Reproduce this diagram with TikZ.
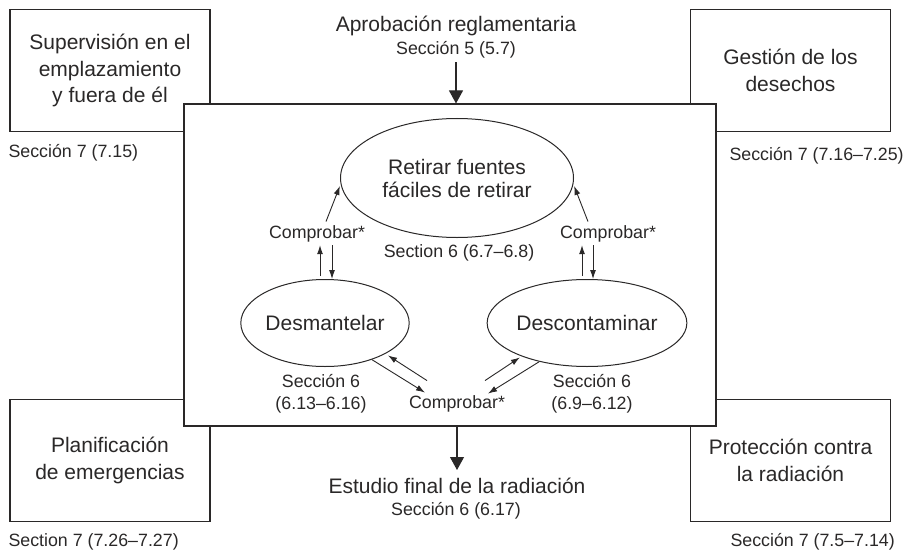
\documentclass[tikz,border=0pt]{standalone}
\usepackage{fontspec}
\setmainfont{Liberation Sans}
\usepackage{tikz}
\usetikzlibrary{shapes,arrows.meta,positioning,calc}

\definecolor{ink}{HTML}{2A2828}

\begin{document}
\begin{tikzpicture}[x=1pt,y=1pt,
    every node/.style={text=ink},
    bigtxt/.style={font=\fontsize{21}{26.5}\selectfont},
    smalltxt/.style={font=\fontsize{17.8}{22}\selectfont},
    cornerbox/.style={draw=ink,line width=1.1pt,fill=white,minimum width=200pt,minimum height=122pt,align=center,bigtxt,inner sep=0pt},
    blob/.style={ellipse,draw=ink,line width=1pt,inner sep=0pt,align=center,font=\fontsize{21}{23}\selectfont},
    arr/.style={draw=ink,line width=0.9pt,-{Latex[length=9pt,width=6pt]}},
    bigarr/.style={draw=ink,line width=1.1pt,-{Triangle[length=13pt,width=14pt]}}]
    \useasboundingbox (0,0) rectangle (909,550);

    % Corner boxes
    \node[cornerbox] (site)  at (110,479.5)   {Supervisión en el\\emplazamiento\\y fuera de él};
    \node[cornerbox] (waste) at (790.5,479.5) {Gestión de los\\desechos};
    \node[cornerbox] (emerg) at (110,89.5)    {Planificación\\de emergencias};
    \node[cornerbox] (prot)  at (790.5,89.5)  {Protección contra\\la radiación};

    \node[smalltxt,anchor=base west] (siteref)  at (5,392)   {Sección 7 (7.15)};
    \node[smalltxt,anchor=base west] (wasteref) at (726,390) {Sección 7 (7.16–7.25)};
    \node[smalltxt,anchor=base west] (emergref) at (5,4)     {Section 7 (7.26–7.27)};
    \node[smalltxt,anchor=base west] (protref)  at (727,4)   {Sección 7 (7.5–7.14)};

    % Main frame
    \node[draw=ink,line width=1.1pt,fill=white,minimum width=532pt,minimum height=322pt,inner sep=0pt] (frame) at (450,285) {};

    % In and out
    \node[bigtxt,anchor=base]   (appr)      at (456,518) {Aprobación reglamentaria};
    \node[smalltxt,anchor=base] (apprref)   at (456,495) {Sección 5 (5.7)};
    \node[bigtxt,anchor=base]   (survey)    at (457,57)  {Estudio final de la radiación};
    \node[smalltxt,anchor=base] (surveyref) at (456,35)  {Sección 6 (6.17)};
    \draw[bigarr] (apprref.south) -- (apprref.south |- frame.north);
    \draw[bigarr,shorten >=4pt] (frame.south -| survey.north) -- (survey.north);

    % Steps
    \node[blob,minimum width=233pt,minimum height=119pt] (remove) at (457,372) {Retirar fuentes\\fáciles de retirar};
    \node[blob,minimum width=166pt,minimum height=87pt]  (dism)   at (325,227) {Desmantelar};
    \node[blob,minimum width=168pt,minimum height=87pt]  (decon)  at (587,227) {Descontaminar};

    \node[smalltxt,anchor=base] (removeref) at (459,293) {Section 6 (6.7–6.8)};
    \node[smalltxt,align=center] (dismref)  at (321,156) {Sección 6\\(6.13–6.16)};
    \node[smalltxt,align=center] (deconref) at (592,156) {Sección 6\\(6.9–6.12)};

    % Checks
    \node[smalltxt,anchor=base] (chkL) at (317,312) {Comprobar*};
    \node[smalltxt,anchor=base] (chkR) at (608,312) {Comprobar*};
    \node[smalltxt,anchor=base] (chkB) at (457,142) {Comprobar*};

    \draw[arr,shorten >=2pt] ([xshift=9pt]chkL.north) -- (remove.183);
    \draw[arr,shorten >=2pt] ([xshift=-20pt]chkR.north) -- (remove.-3);

    \draw[arr] ([xshift=-5pt,yshift=3pt]dism.north) -- ([xshift=-5pt]dism.north |- chkL.south);
    \draw[arr] ([xshift=7pt]dism.north |- chkL.south) -- ([xshift=7pt]dism.north);
    \draw[arr] ([xshift=-5pt,yshift=3pt]decon.north) -- ([xshift=-5pt]decon.north |- chkR.south);
    \draw[arr] ([xshift=6pt]decon.north |- chkR.south) -- ([xshift=6pt]decon.north);

    \draw[arr] (dism.-38) -- ([xshift=-32pt,yshift=-1pt]chkB.north);
    \draw[arr,shorten >=3pt] ([xshift=-30pt,yshift=11pt]chkB.north) -- (dism.-27);
    \draw[arr,shorten >=2pt] ([xshift=28pt,yshift=11pt]chkB.north) -- (decon.207);
    \draw[arr] (decon.219) -- ([xshift=31pt,yshift=-2pt]chkB.north);
\end{tikzpicture}
\end{document}
